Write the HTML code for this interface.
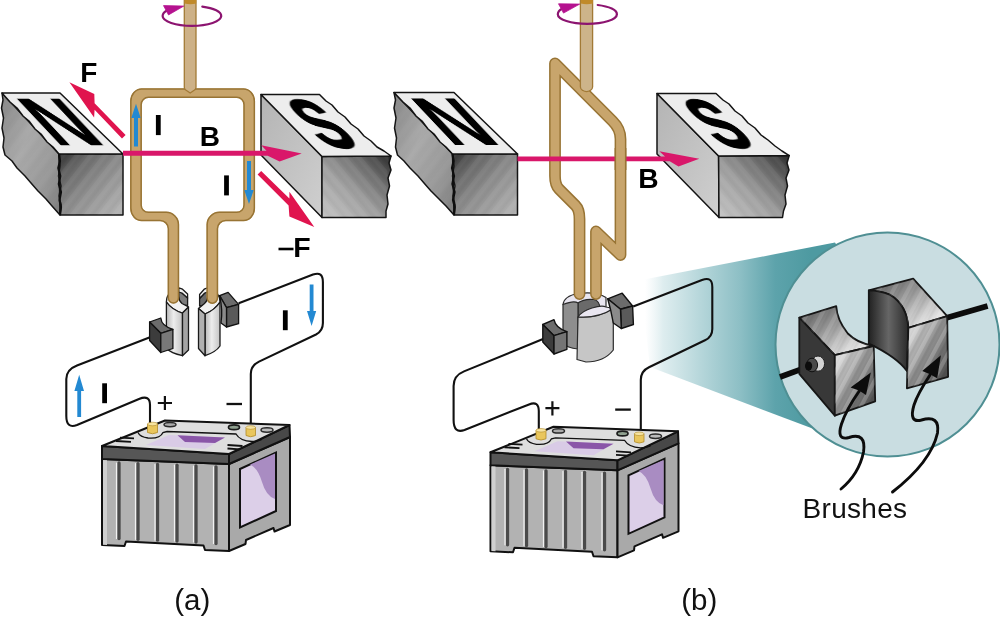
<!DOCTYPE html>
<html><head><meta charset="utf-8"><title>DC motor</title>
<style>
html,body{margin:0;padding:0;background:#fff}
body{width:1000px;height:624px;overflow:hidden;font-family:"Liberation Sans",sans-serif}
svg{display:block}
text{font-family:"Liberation Sans",sans-serif;filter:url(#nf)}
.b{font-weight:bold}
</style></head><body>
<svg width="1000" height="624" viewBox="0 0 1000 624">
<defs>
<linearGradient id="gFN" x1="0" y1="0" x2="1" y2="1"><stop offset="0" stop-color="#2c2c2c"/><stop offset=".22" stop-color="#666"/><stop offset=".5" stop-color="#8a8a8a"/><stop offset="1" stop-color="#b6b6b6"/></linearGradient>
<linearGradient id="gSN" x1="0" y1="0" x2="1" y2="1"><stop offset="0" stop-color="#858585"/><stop offset=".4" stop-color="#a9a9a9"/><stop offset=".75" stop-color="#979797"/><stop offset="1" stop-color="#7a7a7a"/></linearGradient>
<linearGradient id="gFS" x1="0" y1="1" x2="1" y2="0"><stop offset="0" stop-color="#c4c4c4"/><stop offset=".42" stop-color="#a0a0a0"/><stop offset=".72" stop-color="#6e6e6e"/><stop offset="1" stop-color="#2a2a2a"/></linearGradient>
<linearGradient id="gSS" x1="0" y1="0" x2="1" y2="1"><stop offset="0" stop-color="#b4b4b4"/><stop offset="1" stop-color="#cfcfcf"/></linearGradient>
<linearGradient id="gCone" gradientUnits="userSpaceOnUse" x1="645" y1="0" x2="810" y2="0"><stop offset="0" stop-color="#e4f0f2" stop-opacity="0"/><stop offset=".11" stop-color="#dcecee" stop-opacity=".95"/><stop offset=".33" stop-color="#b7d7db"/><stop offset=".575" stop-color="#8dbfc5"/><stop offset=".79" stop-color="#5da3ab"/><stop offset="1" stop-color="#4e9aa1"/></linearGradient>
<linearGradient id="gCyl" x1="0" y1="0" x2="1" y2="0"><stop offset="0" stop-color="#b8b8b8"/><stop offset=".45" stop-color="#ededed"/><stop offset="1" stop-color="#c4c4c4"/></linearGradient>
<linearGradient id="gBr" x1="0" y1="0" x2="1" y2="1"><stop offset="0" stop-color="#f4f4f4"/><stop offset=".5" stop-color="#8c8c8c"/><stop offset="1" stop-color="#3c3c3c"/></linearGradient>
<linearGradient id="gBr2" x1="0" y1="0" x2="1" y2="1"><stop offset="0" stop-color="#565656"/><stop offset=".4" stop-color="#949494"/><stop offset=".8" stop-color="#dedede"/><stop offset="1" stop-color="#ececec"/></linearGradient>
<linearGradient id="gBrD" x1="0" y1="0" x2="1" y2="0"><stop offset="0" stop-color="#222"/><stop offset=".5" stop-color="#666"/><stop offset="1" stop-color="#2a2a2a"/></linearGradient>
<pattern id="streak" patternUnits="userSpaceOnUse" width="11" height="11" patternTransform="rotate(-52)"><rect x="0" y="0" width="11" height="4.5" fill="#fff" opacity=".055"/><rect x="0" y="6.5" width="11" height="2" fill="#000" opacity=".025"/></pattern>
<pattern id="streakS" patternUnits="userSpaceOnUse" width="11" height="11" patternTransform="rotate(50)"><rect x="0" y="0" width="11" height="4.5" fill="#fff" opacity=".055"/><rect x="0" y="6.5" width="11" height="2" fill="#000" opacity=".025"/></pattern>
<pattern id="streak2" patternUnits="userSpaceOnUse" width="13" height="13" patternTransform="rotate(-62)"><rect x="0" y="0" width="13" height="4" fill="#fff" opacity=".20"/><rect x="0" y="7" width="13" height="2.5" fill="#000" opacity=".07"/></pattern>
<filter id="nf" x="-10%" y="-10%" width="120%" height="120%"><feOffset dx="0" dy="0"/></filter>
</defs>
<rect width="1000" height="624" fill="#fff"/>
<!--PANEL_A_START-->
<!-- ===== PANEL A ===== -->
<g id="panelA">
<!-- rotation ellipse back half -->
<path d="M202.3,6.6 A29.3,9.8 0 0 1 221.2,16" fill="none" stroke="#8c1470" stroke-width="2.2" stroke-linecap="round"/>
<!-- N magnet -->
<g stroke="#141414" stroke-width="1.5" stroke-linejoin="round">
<path d="M2,93 L3,100 L1.5,108 L3.5,118 L2,128 L4,138 L3,147 L5,155 L12,161 L17,168 L25,176 L31,183 L38,191 L46,199 L52,206 L60,215 L59,154 Z" fill="url(#gSN)"/>
<path d="M59,154 L123,154 L123,215 L60,215 L61,205 L59,196 L61,186 L58.5,176 L60,166 Z" fill="url(#gFN)"/>
<path d="M2,93 L60,93 L123,154 L59,154 L53,147 L47,142 L41,134 L35,129 L29,121 L23,116 L17,108 L10,102 Z" fill="#ededed"/>
</g>
<path d="M59.5,154.6 L122.4,154.6 L122.4,214.4 L60.5,214.4 Z" fill="url(#streak)"/><path d="M3,96 L58.4,154.6 L59.4,213 L3,154 Z" fill="url(#streak)" opacity=".35"/>
<path d="M59,154 L60,161 L58.3,168 L60.3,176 L58.8,184 L61,192 L59.5,200 L61,207 L60,215" fill="none" stroke="#0e0e0e" stroke-width="2.2" stroke-linejoin="round"/>
<text class="b" font-size="67" transform="matrix(1.08,0,0.94,1,55.9,145.3)" x="0" y="0" fill="#000">N</text>
<!-- S magnet -->
<g stroke="#141414" stroke-width="1.5" stroke-linejoin="round">
<path d="M261,94.5 L322,156.5 L322,217.5 L261,155 Z" fill="url(#gSS)"/>
<path d="M322,156.5 L391,156 L389,163 L391,170 L388,178 L389.5,186 L387,195 L388,204 L386,211 L386,217.5 L322,217.5 Z" fill="url(#gFS)"/>
<path d="M261,94.5 L319.5,94.5 L326,101 L332,105 L338,112 L345,117 L351,124 L358,129 L364,136 L371,141 L377,147 L384,151 L391,156 L322,156.5 Z" fill="#ededed"/>
</g>
<path d="M322.6,157.1 L388,156.7 L385.5,216.9 L322.6,216.9 Z" fill="url(#streakS)"/>
<text class="b" font-size="68" transform="matrix(0.80,0,0.97,1,326.3,147.4)" x="0" y="0" fill="#000" stroke="#000" stroke-width="1.7" stroke-linejoin="round">S</text>
<!-- commutator left half -->
<g stroke="#1a1a1a" stroke-width="1.3" stroke-linejoin="round">
<path d="M178.8,292 L182,293 L187.6,298 L187.6,305.5 L181,305 Q179,301 178.8,297 Z" fill="#7c7c7c"/>
<path d="M178.8,287.8 L182.5,289.2 L187.6,294 L187.6,298 L182,293 L178.8,292 Z" fill="#f2f2f2"/>
<path d="M166.4,302 Q166.4,297 169,294 L178.8,297 Q179,301 182,303.5 L188.5,307 L182.5,313 Q172,310 166.4,302 Z" fill="#f2f2f2"/>
<path d="M166.4,302 Q172,310 182.5,313 L182.5,355.7 Q171,353 166.4,348.5 Z" fill="url(#gCyl)"/>
<path d="M182.5,313 L188.5,307 L188.5,350 L182.5,355.7 Z" fill="#a4a4a4"/>
</g>
<!-- commutator right half -->
<g stroke="#1a1a1a" stroke-width="1.3" stroke-linejoin="round">
<path d="M207.6,292 L204.7,293 L199.6,298.5 L199.6,306 L206,305 Q207.5,301 207.6,297 Z" fill="#6a6a6a"/>
<path d="M207.6,287.8 L204.2,289.2 L199.6,294.5 L199.6,298.5 L204.7,293 L207.6,292 Z" fill="#f2f2f2"/>
<path d="M220,302 Q220,297 217.5,294 L207.6,297 Q207.5,301 204.5,303.5 L198.5,308.5 L205,314 Q215,310 220,302 Z" fill="#f2f2f2"/>
<path d="M220,302 Q215,310 205,314 L205,355.7 Q216,352 220,346 Z" fill="url(#gCyl)"/>
<path d="M205,314 L198.5,308.5 L198.5,348.5 L205,355.7 Z" fill="#b0b0b0"/>
</g>
<!-- loop -->
<clipPath id="clipLoopA"><path d="M167.6,298 L167.6,228.8 A7.6,7.6 0 0 0 160,221.2 L141.6,221.2 A11.5,13 0 0 1 130.1,208.2 L130.1,101.3 A11.5,13 0 0 1 141.6,88.3 L243.6,88.3 A11.5,13 0 0 1 255.1,101.3 L255.1,208.2 A11.5,13 0 0 1 243.6,221.2 L225.8,221.2 A7.6,7.6 0 0 0 218.2,228.8 L218.2,298 A5.9,5.9 0 0 1 206.4,298 L206.4,224.6 A13,13 0 0 1 219.4,211.6 L236.7,211.6 A6.6,6.6 0 0 0 243.3,205 L243.3,104.7 A6.6,6.6 0 0 0 236.7,98.1 L148.5,98.1 A6.6,6.6 0 0 0 141.9,104.7 L141.9,205 A6.6,6.6 0 0 0 148.5,211.6 L166.2,211.6 A13,13 0 0 1 179.2,224.6 L179.2,298 A5.8,5.8 0 0 1 167.6,298 Z"/></clipPath>
<path d="M167.6,298 L167.6,228.8 A7.6,7.6 0 0 0 160,221.2 L141.6,221.2 A11.5,13 0 0 1 130.1,208.2 L130.1,101.3 A11.5,13 0 0 1 141.6,88.3 L243.6,88.3 A11.5,13 0 0 1 255.1,101.3 L255.1,208.2 A11.5,13 0 0 1 243.6,221.2 L225.8,221.2 A7.6,7.6 0 0 0 218.2,228.8 L218.2,298 A5.9,5.9 0 0 1 206.4,298 L206.4,224.6 A13,13 0 0 1 219.4,211.6 L236.7,211.6 A6.6,6.6 0 0 0 243.3,205 L243.3,104.7 A6.6,6.6 0 0 0 236.7,98.1 L148.5,98.1 A6.6,6.6 0 0 0 141.9,104.7 L141.9,205 A6.6,6.6 0 0 0 148.5,211.6 L166.2,211.6 A13,13 0 0 1 179.2,224.6 L179.2,298 A5.8,5.8 0 0 1 167.6,298 Z" fill="#c8a56c" stroke="#987434" stroke-width="3" stroke-linejoin="round" clip-path="url(#clipLoopA)"/>
<!-- shaft -->
<path d="M184.3,0 L184.3,87.5 Q184.5,89.5 186.5,90.5 L190.2,93 L193.8,90.5 Q195.8,89.5 196,87.5 L196,0 Z" fill="#cdb187" stroke="#a27a36" stroke-width="1.3"/>
<path d="M184.6,0 L196.2,0 L196.2,3.5 Q190.4,5 184.6,3.5 Z" fill="#c08a2a"/>
<!-- rotation ellipse front half + arrowhead -->
<path d="M221.2,16 A29.3,9.8 0 0 1 162.6,16 Q162.8,12.5 167,10.5" fill="none" stroke="#8c1470" stroke-width="2.2"/>
<path d="M163.5,5.6 L183.8,6.1 L168.5,14.9 Z" fill="#b5128f" stroke="#b5128f" stroke-width=".8" stroke-linejoin="round"/>
<!-- B field line -->
<path d="M123,150.7 L266.5,150.7 L261.2,145.2 L301.7,153.4 L279.6,161.4 L267.7,155.7 L123,155.7 Z" fill="#d9176a"/>
<!-- blue current arrows -->
<g fill="#2389d2">
<path d="M134,146.5 L134,118 L131.3,118 L136,103.8 L140.7,118 L138,118 L138,146.5 Z"/>
<path d="M247,161 L247,190 L244.3,190 L249,204 L253.7,190 L251,190 L251,161 Z"/>
<path d="M309.7,284.5 L309.7,311 L307,311 L311.6,326 L316.2,311 L313.5,311 L313.5,284.5 Z"/>
<path d="M77.3,417 L77.3,391 L74.4,391 L79.2,374.8 L84,391 L81.1,391 L81.1,417 Z"/>
</g>
<!-- F arrows -->
<g fill="#e0144e">
<path d="M69.4,82.3 L94.3,93.9 L94.6,103.2 L125.6,134.9 L122,138.5 L94.6,109.7 L94.1,117.6 Z"/>
<path d="M261.2,171.1 L289.4,198.5 L289.4,191.7 L314.3,227 L289.4,216.6 L288.6,205.5 L257.6,174.4 Z"/>
</g>
<!-- wires -->
<g fill="none" stroke="#111" stroke-width="2.1" stroke-linejoin="round">
<path d="M150,337.3 L77,365.4 Q66.3,369.5 66.3,379 L66.3,416 Q66.3,429 77,425 L139,399 Q150,394.5 150,405 L150,425"/>
<path d="M238.7,303.3 L313,274.6 Q322.9,271 322.9,282 L322.9,323 Q322.9,331 316,334.5 L259,361.6 Q250.8,365.5 250.8,374 L250.8,428"/>
</g>
<!-- brushes -->
<g stroke="#111" stroke-width="1.3" stroke-linejoin="round">
<path d="M149.6,322 L160.8,318 Q161.5,326 172.9,329.3 L160.8,333.3 Z" fill="#6c6c6c"/>
<path d="M149.6,322 L160.8,333.3 L160.8,352.5 L149.6,340.5 Z" fill="#3c3c3c"/>
<path d="M160.8,333.3 L172.9,329.3 L172.9,348.5 L160.8,352.5 Z" fill="#787878"/>
<path d="M219.6,295.6 L228.1,292.4 L238.6,304.4 L226.5,307.6 Z" fill="#6c6c6c"/>
<path d="M226.5,307.6 L238.6,304.4 L238.6,323.7 L226.5,327 Z" fill="#5a5a5a"/>
<path d="M219.6,295.6 L226.5,307.6 L226.5,327 L221,323 Q223,310 219.6,295.6 Z" fill="#8a8a8a"/>
</g>
<!-- battery -->
<g id="battery">
<g stroke="#111" stroke-width="2" stroke-linejoin="round">
<path d="M102,459 L229,464 L229,551 L205,550 L203.5,545.5 L126,541.5 L124.5,546 L102,545 Z" fill="#b2b2b2"/>
<path d="M229,464 L290,437 L290,525 L274.5,531.5 L273.5,528 L246,540 L245.5,544 L229,551 Z" fill="#a9a9a9"/>
<path d="M102,446 L229,454 L229,464 L102,459 Z" fill="#565656"/>
<path d="M229,454 L289.5,425 L290,437 L229,464 Z" fill="#484848"/>
<path d="M102,446 L165,420.5 L289.5,425 L229,454 Z" fill="#dedede"/>
</g>
<path d="M103,460 L107,460.2 L107,545 L103,544.8 Z" fill="#cfcfcf"/>
<g stroke="#4a4a4a" stroke-width="3.3" fill="none" stroke-linecap="round">
<path d="M119,463 L119,538.5"/><path d="M138,463.7 L138,539.3"/><path d="M157.5,464.5 L157.5,540.2"/><path d="M177,465.2 L177,541"/><path d="M196,466 L196,542"/><path d="M216,466.8 L216,543.5"/>
</g>
<g stroke="#f2f2f2" stroke-width="1.2" fill="none" stroke-linecap="round" transform="translate(-.9,0)">
<path d="M117.4,463 L117.4,538.5"/><path d="M136.4,463.7 L136.4,539.3"/><path d="M155.9,464.5 L155.9,540.2"/><path d="M175.4,465.2 L175.4,541"/><path d="M194.4,466 L194.4,542"/><path d="M214.4,466.8 L214.4,543.5"/>
</g>
<path d="M240,469 L276,452.5 L276,511 L240,527.5 Z" fill="#dccfe8" stroke="#111" stroke-width="2"/>
<path d="M250,464.6 L275,453.6 L275,499 Q266,496 262,482 Q258,468 250,464.6 Z" fill="#a98cc2"/>
<path d="M138,432.5 Q140,437 148,438 Q160,439 163,432.5 L167,431.5 L236,434 Q240,441 252,441.5 Q258,441.5 262,439.5" fill="none" stroke="#111" stroke-width="1.3"/>
<path d="M146,445 L169,435 L225,437.5 L205,449 Z" fill="#d9cbe6"/>
<path d="M177.5,435.2 L225,437.5 L215,443 L185,442 Z" fill="#8a56a8"/>
<path d="M120,437.6 L134,438.3 M116,441 L131,441.8 M227.5,445 L242.5,446 M227.5,448.5 L240,449.3" stroke="#111" stroke-width="1.8" fill="none"/>
<ellipse cx="170" cy="424.6" rx="6" ry="2.2" fill="#aaa" stroke="#2a2a2a" stroke-width="1.5"/>
<ellipse cx="234" cy="427.2" rx="5.5" ry="2.4" fill="#8fa08f" stroke="#1c1c1c" stroke-width="1.7"/>
<ellipse cx="267" cy="430" rx="6" ry="2.2" fill="#bbb" stroke="#2a2a2a" stroke-width="1.5"/>
<path d="M147.5,424 L157.5,424 L157.5,432.5 Q152.5,435 147.5,432.5 Z" fill="#e9c65c" stroke="#b08a28" stroke-width=".8"/>
<ellipse cx="152.5" cy="424" rx="5" ry="1.8" fill="#f6e3a0" stroke="#b08a28" stroke-width=".6"/>
<path d="M246,427.5 L255.5,427.5 L255.5,435.5 Q250.7,438 246,435.5 Z" fill="#e9c65c" stroke="#b08a28" stroke-width=".8"/>
<ellipse cx="250.7" cy="427.5" rx="4.8" ry="1.8" fill="#f6e3a0" stroke="#b08a28" stroke-width=".6"/>
</g>
<!-- labels -->
<g class="b" fill="#000">
<text font-size="28" x="80.3" y="81.9">F</text>
<text font-size="28" x="199.7" y="146.4">B</text>
<text font-size="28.5" x="293.2" y="257.1">F</text>
<rect x="155.9" y="115" width="4.8" height="20.1"/>
<rect x="224.1" y="175.4" width="4.8" height="20"/>
<rect x="282.9" y="310.3" width="4.8" height="19.9"/>
<rect x="102.2" y="383.3" width="4.8" height="19.9"/>
</g>
<path d="M278.5,249 L293.5,249" stroke="#000" stroke-width="2.6"/>
<path d="M164.9,396 L164.9,410 M157.8,403 L172,403" stroke="#111" stroke-width="2.2" fill="none"/>
<path d="M226.5,404 L242,404" stroke="#111" stroke-width="2.3" fill="none"/>
</g>
<!--PANEL_A_END-->
<!--PANEL_B_START-->
<!-- ===== PANEL B ===== -->
<g id="panelB">
<!-- zoom cone (behind everything in b) -->
<path d="M640,280.3 L835,242.5 L900,345 L812.5,428.5 L650,367 Z" fill="url(#gCone)"/>
<!-- rotation ellipse back -->
<path d="M597.7,5 A29.5,9.7 0 0 1 616.9,14.2" fill="none" stroke="#8c1470" stroke-width="2.2" stroke-linecap="round"/>
<!-- N magnet -->
<g stroke="#141414" stroke-width="1.5" stroke-linejoin="round">
<path d="M394,92.5 L395.5,100 L394,108 L396,118 L394.5,128 L396.5,138 L395.5,147 L397.5,155 L404,161 L410,168 L418,176 L424,183 L431,191 L439,199 L446,206 L454,215 L452.5,154 Z" fill="url(#gSN)"/>
<path d="M452.5,154 L517.5,154 L517.5,215 L454,215 L455,205 L453,196 L455,186 L452.5,176 L454,166 Z" fill="url(#gFN)"/>
<path d="M394,92.5 L454,92.5 L517.5,154 L452.5,154 L446,147 L440,142 L434,134 L428,129 L422,121 L416,116 L410,108 L403,102 Z" fill="#ededed"/>
</g>
<path d="M453.1,154.6 L516.9,154.6 L516.9,214.4 L454.6,214.4 Z" fill="url(#streak)"/><path d="M395.5,96 L452,154.6 L453.4,213 L396.5,154 Z" fill="url(#streak)" opacity=".35"/>
<path d="M452.5,154 L453.6,161 L452,168 L454,176 L452.4,184 L454.6,192 L453,200 L454.8,207 L454,215" fill="none" stroke="#0e0e0e" stroke-width="2.2" stroke-linejoin="round"/>
<text class="b" font-size="67" transform="matrix(1.10,0,0.945,1,450.2,145)" x="0" y="0" fill="#000">N</text>
<!-- S magnet -->
<g stroke="#141414" stroke-width="1.5" stroke-linejoin="round">
<path d="M657,93.5 L718.6,156 L719,217.5 L657,154 Z" fill="url(#gSS)"/>
<path d="M718.6,156 L789.2,155.6 L787,163 L789,170 L786,178 L787.5,186 L785,195 L786,204 L783.5,211 L782.5,217.5 L719,217.5 Z" fill="url(#gFS)"/>
<path d="M657,93.5 L716,93.5 L723,100 L729,104 L735,111 L742,116 L748,123 L755,128 L761,135 L768,140 L775,146 L782,151 L789.2,155.6 L718.6,156 Z" fill="#ededed"/>
</g>
<path d="M719.6,157 L786.5,156.4 L782,216.9 L719.6,216.9 Z" fill="url(#streakS)"/>
<text class="b" font-size="68" transform="matrix(0.80,0,0.97,1,722.3,147.3)" x="0" y="0" fill="#000" stroke="#000" stroke-width="1.7" stroke-linejoin="round">S</text>
<!-- B line (behind the loop's right side, over left) -->
<!-- commutator (b) -->
<g stroke="#2a2a2a" stroke-width="1.2" stroke-linejoin="round">
<path d="M563,304.5 Q564,296 578,293.5 Q596,291 606,297.5 L606,309 L578,317 Z" fill="#e9e6f0"/>
<path d="M578,303 Q584,298.5 594,299.5 Q600,301 600,309 L589,313 L578,317 Z" fill="#6a6a6a"/>
<path d="M563,304.5 L563,343 Q567,348 578,349 L578,303 Q574,300 563,304.5 Z" fill="#8e8e8e"/>
<path d="M578,317 Q598,318 613.3,308.5 L613.3,350 Q604,362 586,362 L577,359.5 Z" fill="#c6c6c6"/>
<path d="M578,317 Q582,311 592,308 Q602,305 606,307 L613.3,308.5 Q598,318.5 578,317 Z" fill="#e9e6f0"/>
</g>
<!-- loop -->
<g fill="none" stroke-linejoin="round" stroke-linecap="round">
<path d="M579.5,294 L579.5,219 Q579.5,209.5 575.5,205.5 L559,189 Q555,185 555,176 L555,63.4 L612.6,121.2 Q620.5,129 620.5,139 L620.5,255 L596,231.5 L596,294" stroke="#987434" stroke-width="11.8"/>
<path d="M579.5,294 L579.5,219 Q579.5,209.5 575.5,205.5 L559,189 Q555,185 555,176 L555,63.4 L612.6,121.2 Q620.5,129 620.5,139 L620.5,255 L596,231.5 L596,294" stroke="#c8a56c" stroke-width="8.8"/>
</g>
<!-- shaft -->
<path d="M580.4,0 L580.4,87 Q580.6,89.5 582.5,90.3 Q586.5,93 590.5,90.3 Q592.4,89.5 592.6,87 L592.6,0 Z" fill="#cdb48a" stroke="#a27a36" stroke-width="1.3"/>
<path d="M580.8,0 L592.8,0 L592.8,3.5 Q586.8,5 580.8,3.5 Z" fill="#c08a2a"/>
<!-- rotation ellipse front + head -->
<path d="M616.9,14.2 A29.5,9.7 0 0 1 557.8,14.2 Q558,10.7 562,8.7" fill="none" stroke="#8c1470" stroke-width="2.2"/>
<path d="M558.5,3.8 L579.7,4.1 L563.5,13.1 Z" fill="#b5128f" stroke="#b5128f" stroke-width=".8" stroke-linejoin="round"/>
<!-- B arrow -->
<path d="M517.5,156.5 L665,156.5 L659.3,151.2 L699.3,158.8 L678.5,166.4 L669.7,161.3 L517.5,161.3 Z" fill="#d9176a"/>
<!-- wires -->
<g fill="none" stroke="#111" stroke-width="2.1" stroke-linejoin="round">
<path d="M543,339 L464,371.4 Q453.6,375.6 453.6,386 L453.6,420 Q453.6,434 464.5,430 L529,404.4 Q538.8,400.5 538.8,411 L538.8,431"/>
<path d="M633.2,306.5 L702,280 Q712.3,276 712.3,287 L712.3,329 Q712.3,337 705,340.3 L649,367.2 Q640.8,371 640.8,380 L640.8,434"/>
</g>
<!-- brushes -->
<g stroke="#111" stroke-width="1.4" stroke-linejoin="round">
<path d="M542.8,324.5 L554,319.7 Q555.5,328 566.9,331.7 L554,335.7 Z" fill="#6c6c6c"/>
<path d="M542.8,324.5 L554,335.7 L554,354 L542.8,342 Z" fill="#3c3c3c"/>
<path d="M554,335.7 L566.9,331.7 L566.9,349.3 L554,354 Z" fill="#747474"/>
<path d="M607.7,298.8 L622.2,293.2 L632.6,306 L620.5,309.3 Z" fill="#6c6c6c"/>
<path d="M620.5,309.3 L632.6,306 L633.4,324.5 L621.3,328.5 Z" fill="#5a5a5a"/>
<path d="M607.7,298.8 L620.5,309.3 L621.3,328.5 L613.3,323 Q611,310 607.7,298.8 Z" fill="#8a8a8a"/>
</g>
<!-- right side of loop passes in front of B line -->
<path d="M620.5,148 L620.5,170" stroke="#987434" stroke-width="11.8" fill="none"/><path d="M620.5,148 L620.5,170" stroke="#c8a56c" stroke-width="8.8" fill="none"/>
<!-- battery b -->
<use href="#battery" transform="translate(388.5,6.3)"/>
<!-- labels -->
<text class="b" font-size="28.2" x="638.2" y="187.5" fill="#000">B</text>
<path d="M552.4,401.3 L552.4,415.4 M545.4,408.2 L559.4,408.2" stroke="#111" stroke-width="2.2" fill="none"/>
<path d="M615.2,409.6 L630.8,409.6" stroke="#111" stroke-width="2.3" fill="none"/>
</g>
<!--PANEL_B_END-->
<!--ZOOM_START-->
<!-- ===== ZOOM CIRCLE ===== -->
<g id="zoomc">
<circle cx="887.5" cy="344.5" r="112" fill="#c9dde1" stroke="#4f8f93" stroke-width="2"/>
<!-- rods -->
<path d="M780,377 L809,366.3" stroke="#0c0c0c" stroke-width="5.6" fill="none"/>
<path d="M946,318 L987.6,306" stroke="#0c0c0c" stroke-width="5.8" fill="none"/>
<!-- right brush -->
<g stroke="#161616" stroke-width="1.8" stroke-linejoin="round">
<path d="M868.8,290.3 L913.2,278.7 L947.2,316.2 L908.3,327.8 Q907,305 889.6,294.6 Q880,290.5 868.8,290.3 Z" fill="url(#gBr2)"/>
<path d="M868.8,290.3 Q880,290.5 889.6,294.6 Q907,305 908.3,327.8 L906.9,371 Q897,357 868.8,343.6 Z" fill="url(#gBrD)"/>
<path d="M908.3,327.8 L947.2,316.2 L948.1,376.8 L906.9,388.3 Z" fill="url(#gBr)"/>
</g>
<!-- left brush -->
<g stroke="#161616" stroke-width="1.8" stroke-linejoin="round">
<path d="M799.3,317.7 L836.2,306.1 Q837,320 847.8,333.5 Q857,343 873.7,346 L834.8,355.2 Z" fill="url(#gBr2)"/>
<path d="M799.3,317.7 L834.8,355.2 L834.8,415.7 L799.3,373.9 Z" fill="#383838"/>
<path d="M834.8,355.2 L873.7,346 L875.2,401.3 L834.8,415.7 Z" fill="url(#gBr)"/>
</g>
<path d="M834.8,355.2 L873.7,346 L875.2,401.3 L834.8,415.7 Z" fill="url(#streak2)"/><path d="M908.3,327.8 L947.2,316.2 L948.1,376.8 L906.9,388.3 Z" fill="url(#streak2)"/><path d="M868.8,290.3 L913.2,278.7 L947.2,316.2 L908.3,327.8 Q907,305 889.6,294.6 Q880,290.5 868.8,290.3 Z" fill="url(#streak2)" opacity=".6"/><path d="M799.3,317.7 L836.2,306.1 Q837,320 847.8,333.5 Q857,343 873.7,346 L834.8,355.2 Z" fill="url(#streak2)" opacity=".6"/>
<ellipse cx="818" cy="363.6" rx="6.6" ry="7.6" fill="#d4d4d4" stroke="#222" stroke-width="1"/>
<ellipse cx="812" cy="365" rx="5.6" ry="6.8" fill="#4a4a4a" stroke="#111" stroke-width="1"/>
<ellipse cx="808.6" cy="366" rx="3.6" ry="4.6" fill="#0c0c0c"/>
<!-- pointers -->
<g fill="none" stroke="#0c0c0c" stroke-width="2.9" stroke-linecap="round">
<path d="M859.3,391 Q846,410 841.5,424 Q836,441 849,437.5 Q866.5,432 863.5,452 Q859,474 841,489"/>
<path d="M930,375 Q917.5,394 914,405 Q908.5,423.5 921.5,420 Q940,414.5 937.5,433 Q931,462 892.5,492"/>
</g>
<path d="M870.8,372.5 L866,395 L859,390.5 L850.6,387.5 Z" fill="#0c0c0c"/>
<path d="M940.9,355.2 L937.2,378.2 L929.5,374 L922.2,371 Z" fill="#0c0c0c"/>
<text font-size="28" letter-spacing=".3" x="802.6" y="518.3" fill="#111">Brushes</text>
</g>
<!--ZOOM_END-->
<!--LABELS_START-->
<text font-size="29.5" x="174.3" y="609.7" fill="#111">(a)</text>
<text font-size="29.5" x="681.3" y="609.7" fill="#111">(b)</text>
<!--LABELS_END-->
</svg>
</body></html>
